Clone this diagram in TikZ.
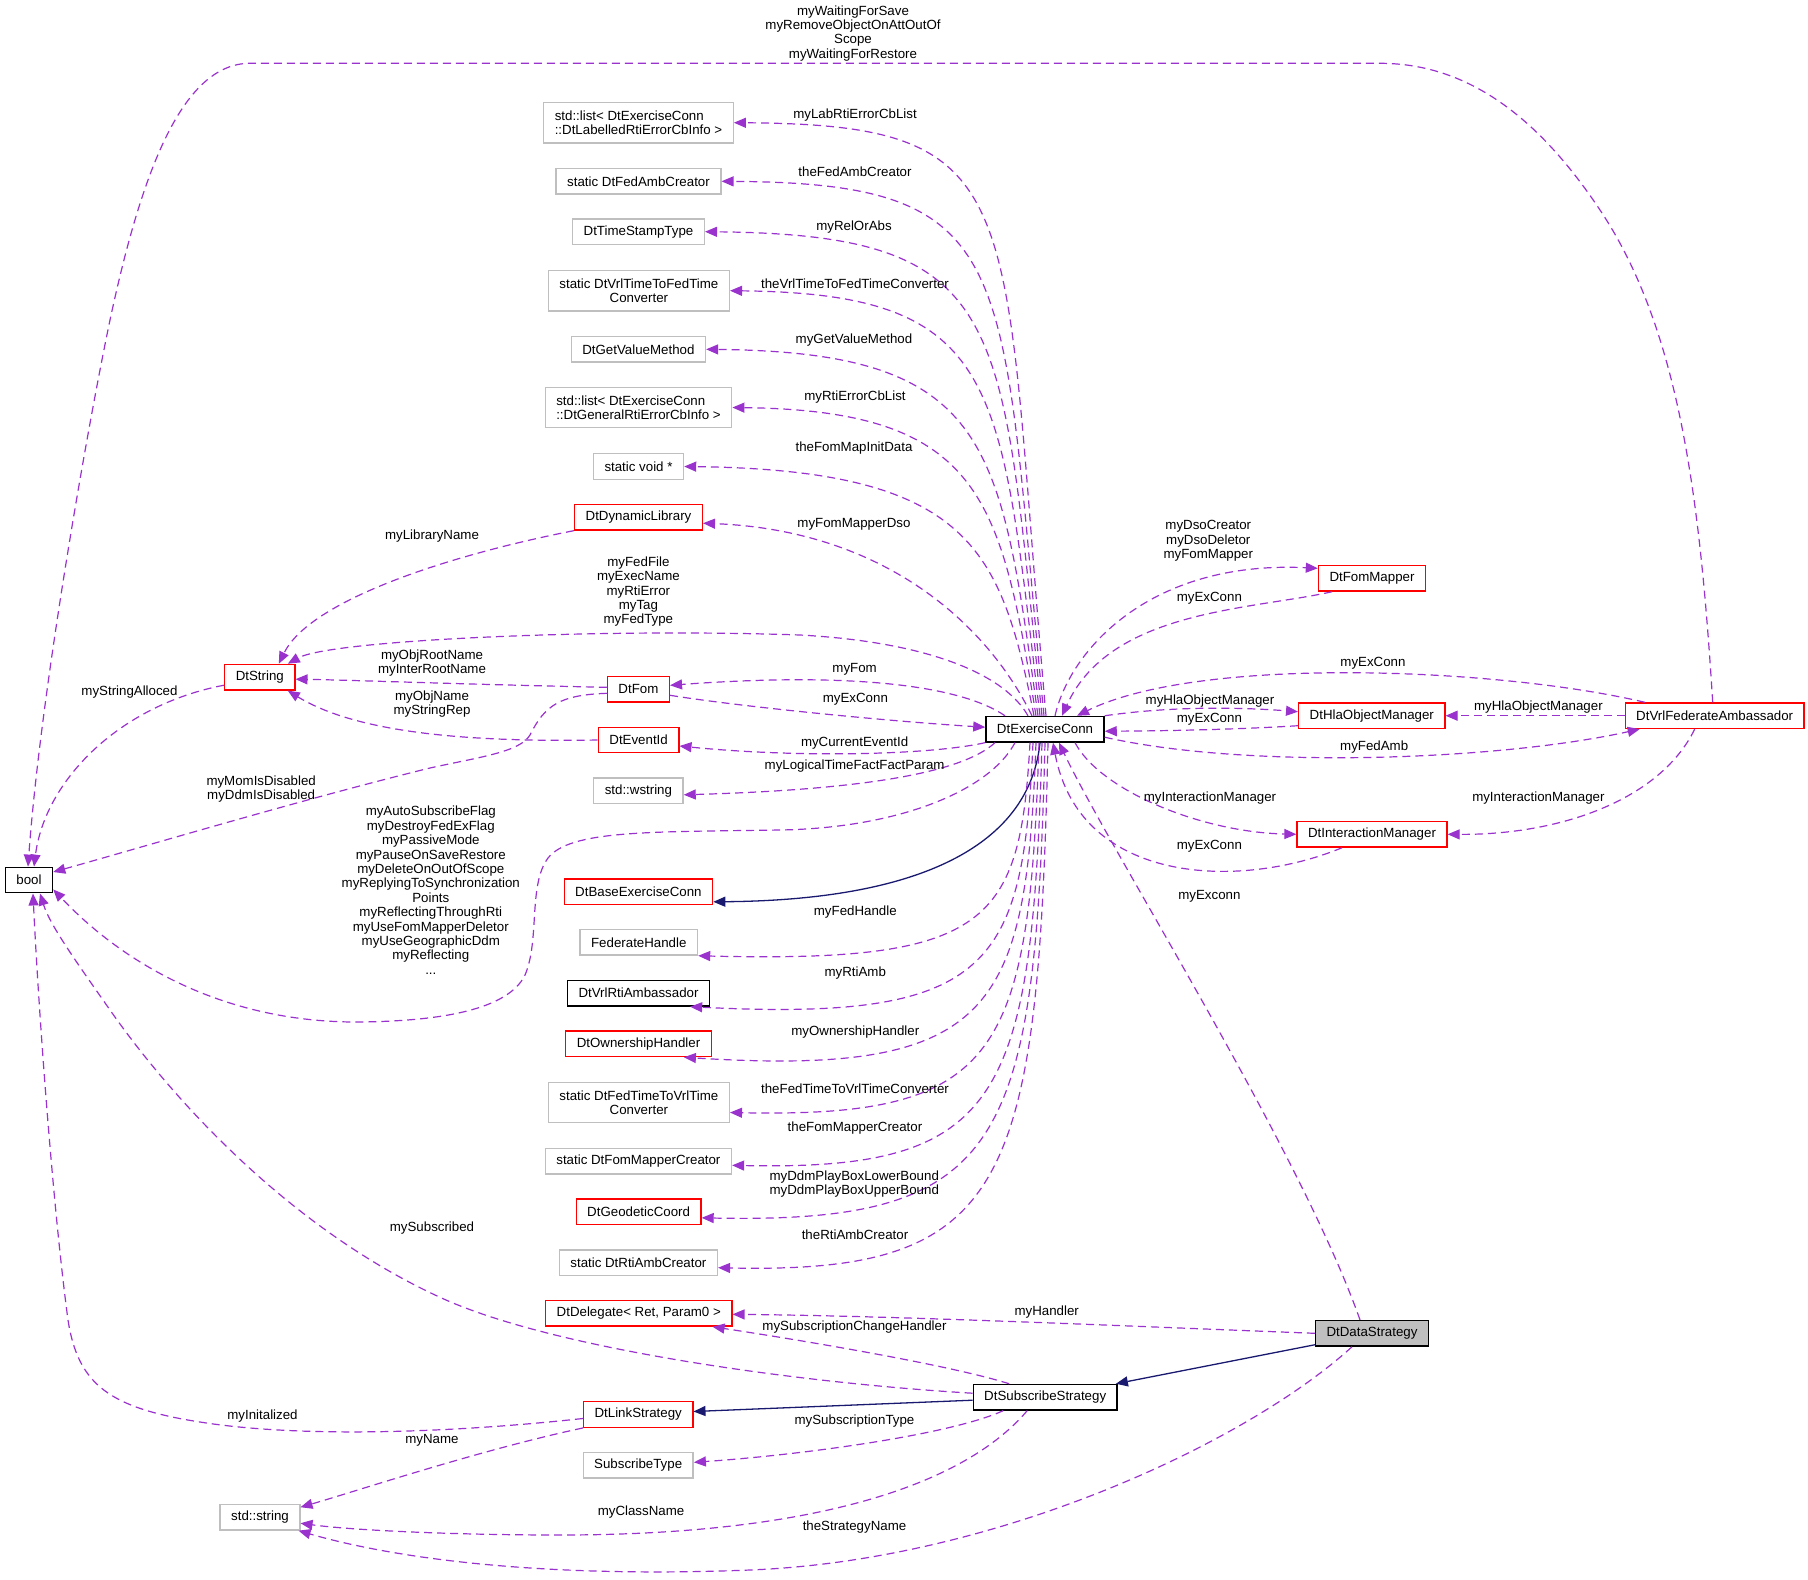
\documentclass[tikz,border=0pt]{standalone}
\usepackage{fontspec}
\setmainfont{Liberation Sans}
\usetikzlibrary{arrows.meta}
\definecolor{usecol}{HTML}{9A32CD}
\definecolor{inhcol}{HTML}{191970}
\definecolor{grayb}{HTML}{BFBFBF}
\begin{document}
\begin{tikzpicture}[x=1pt,y=-1pt,
  every node/.style={font=\fontsize{13.3}{14.4}\selectfont},
  nbox/.style={draw, line width=1.4pt, inner xsep=11pt, inner ysep=0pt, minimum height=25.5pt, align=center},
  tworow/.style={minimum height=40.3pt},
  rbox/.style={nbox, draw=red},
  gbox/.style={nbox, draw=grayb},
  kbox/.style={nbox, draw=black},
  usesty/.style={draw=usecol, line width=1.2pt, dash pattern=on 8pt off 5pt, -{Triangle[length=12pt,width=10pt]}},
  inhsty/.style={draw=inhcol, line width=1.3pt, -{Triangle[length=12pt,width=10pt]}},
  lbl/.style={inner sep=0pt, align=center},
]
\useasboundingbox (0,0) rectangle (1808,1580);

% ---------- nodes ----------
\node[kbox] (boolN) at (29,880) {bool};
\node[gbox, tworow, align=left] (listA) at (638.5,122.7) {std::list< DtExerciseConn\\::DtLabelledRtiErrorCbInfo >};
\node[gbox] (fedamb) at (638.5,181.3) {static DtFedAmbCreator};
\node[gbox] (tstamp) at (638.5,231.7) {DtTimeStampType};
\node[gbox, tworow] (vrltime) at (638.9,290.7) {static DtVrlTimeToFedTime\\Converter};
\node[gbox] (getval) at (638.4,349.3) {DtGetValueMethod};
\node[gbox, tworow, align=left] (listB) at (638.5,407.5) {std::list< DtExerciseConn\\::DtGeneralRtiErrorCbInfo >};
\node[gbox] (voidp) at (638.5,466.5) {static void *};
\node[rbox] (dynlib) at (638.5,517.2) {DtDynamicLibrary};
\node[rbox] (dtstring) at (259.8,677.2) {DtString};
\node[rbox] (dtfom) at (638.4,689.3) {DtFom};
\node[rbox] (eventid) at (638.6,740) {DtEventId};
\node[gbox] (wstring) at (638.4,790.8) {std::wstring};
\node[rbox] (baseexc) at (638.4,891.8) {DtBaseExerciseConn};
\node[gbox] (fedhandle) at (638.8,942.3) {FederateHandle};
\node[kbox] (vrlrti) at (638.5,993.2) {DtVrlRtiAmbassador};
\node[rbox] (ownership) at (638.5,1043.8) {DtOwnershipHandler};
\node[gbox, tworow] (fedtime) at (638.9,1102.5) {static DtFedTimeToVrlTime\\Converter};
\node[gbox] (fmcreator) at (638.4,1161.3) {static DtFomMapperCreator};
\node[rbox] (geodetic) at (638.6,1211.8) {DtGeodeticCoord};
\node[gbox] (rticreator) at (638.4,1262.7) {static DtRtiAmbCreator};
\node[rbox] (delegate) at (638.8,1313.3) {DtDelegate< Ret, Param0 >};
\node[rbox] (linkstrat) at (638.2,1414.5) {DtLinkStrategy};
\node[gbox] (subtype) at (638.2,1465.3) {SubscribeType};
\node[gbox] (stdstring) at (260,1517.2) {std::string};
\node[kbox] (exc) at (1045,729.2) {DtExerciseConn};
\node[rbox] (fommapper) at (1372,578.3) {DtFomMapper};
\node[rbox] (hla) at (1371.8,715.7) {DtHlaObjectManager};
\node[rbox] (im) at (1372,834.3) {DtInteractionManager};
\node[rbox] (vrlfed) at (1714.7,715.7) {DtVrlFederateAmbassador};
\node[kbox] (substrat) at (1045.2,1397.2) {DtSubscribeStrategy};
\node[kbox, fill=grayb] (datastrat) at (1372,1333.3) {DtDataStrategy};

% ---------- edges to bool ----------
\draw[usesty] ([xshift=-2pt]vrlfed.north) .. controls (1700,500) and (1680,330) .. (1600,210) .. controls (1540,120) and (1470,63.3) .. (1380,63.3) -- (250,63.3) .. controls (180,63.3) and (140,180) .. (110,320) .. controls (85,440) and (40,700) .. ([xshift=-1pt]boolN.north);
\draw[usesty] ([yshift=-8pt]dtstring.west) .. controls (120,705) and (45,780) .. ([xshift=5pt]boolN.north);
\draw[usesty] ([yshift=-4pt]dtfom.west) .. controls (560,695) and (545,705) .. (530,735) .. controls (520,752) and (480,757) .. (430,768) .. controls (300,800) and (150,845) .. ([yshift=8pt]boolN.east);
\draw[usesty] ([xshift=-30pt]exc.south) .. controls (990,790) and (900,828) .. (780,830) .. controls (650,832) and (570,830) .. (548,858) .. controls (528,885) and (540,940) .. (525,975) .. controls (508,1010) and (440,1021) .. (360,1022) .. controls (220,1023) and (120,960) .. ([yshift=4pt]boolN.south east);
\draw[usesty] ([yshift=4pt]substrat.west) .. controls (800,1383) and (560,1350) .. (446,1300) .. controls (300,1235) and (180,1110) .. (110,1010) .. controls (75,960) and (50,925) .. ([xshift=11pt]boolN.south);
\draw[usesty] ([yshift=-4pt]linkstrat.west) .. controls (450,1433) and (300,1438) .. (200,1422) .. controls (110,1408) and (78,1385) .. (68,1320) .. controls (52,1200) and (38,1000) .. ([xshift=4pt]boolN.south);

% ---------- top fan ----------
\draw[usesty] ([xshift=1pt]exc.north) .. controls (1000,194) and (1034,124.7) .. (listA.east);
\draw[usesty] ([xshift=-1pt]exc.north) .. controls (999,261.7) and (1024,183.3) .. (fedamb.east);
\draw[usesty] ([xshift=-3pt]exc.north) .. controls (1000,320) and (1014.4,234.7) .. (tstamp.east);
\draw[usesty] ([xshift=-5pt]exc.north) .. controls (1000,384) and (1003.5,293.7) .. (vrltime.east);
\draw[usesty] ([xshift=-7pt]exc.north) .. controls (1000,443.4) and (992.7,352.3) .. (getval.east);
\draw[usesty] ([xshift=-9pt]exc.north) .. controls (1001,498.2) and (982,410.5) .. (listB.east);
\draw[usesty] ([xshift=-11pt]exc.north) .. controls (1001,550) and (971,470) .. (voidp.east);
\draw[usesty] ([xshift=-13pt]exc.north) .. controls (985,620) and (880,530) .. ([yshift=-6pt]dynlib.east);
\draw[usesty] ([xshift=-17pt]exc.north) .. controls (1005,675) and (930,642) .. (800,635) .. controls (600,628) and (330,640) .. ([xshift=28pt]dtstring.north);
\draw[usesty] (dynlib.south west) .. controls (450,555) and (310,600) .. ([xshift=19pt]dtstring.north);
\draw[usesty] ([yshift=2pt]dtfom.west) .. controls (450,684) and (350,680) .. ([yshift=-2pt]dtstring.east);
\draw[usesty] (eventid.west) .. controls (480,742) and (360,735) .. ([xshift=28pt]dtstring.south);
\draw[usesty] ([xshift=-40pt]exc.north) .. controls (960,685) and (850,672) .. ([yshift=4pt]dtfom.east);
\draw[usesty] ([yshift=-6pt]dtfom.east) .. controls (750,708) and (900,722) .. ([yshift=2pt]exc.west);
\draw[usesty] (exc.south west) .. controls (930,755) and (800,758) .. ([yshift=-6pt]eventid.east);
\draw[usesty] ([xshift=-50pt]exc.south) .. controls (960,775) and (850,790) .. ([yshift=-4pt]wstring.east);

% ---------- bottom fan ----------
\draw[inhsty] ([xshift=-5pt]exc.south) .. controls (1030,840) and (930,900) .. ([yshift=-10pt]baseexc.east);
\draw[usesty] ([xshift=-15pt]exc.south) .. controls (1020,923) and (990,963) .. (fedhandle.south east);
\draw[usesty] ([xshift=-12pt]exc.south) .. controls (1023,966) and (993,1022) .. ([xshift=-20pt]vrlrti.south east);
\draw[usesty] ([xshift=-9pt]exc.south) .. controls (1026,1009.5) and (996,1077) .. ([xshift=-28pt]ownership.south east);
\draw[usesty] ([xshift=-6pt]exc.south) .. controls (1029,1057) and (999,1118) .. ([yshift=-10pt]fedtime.east);
\draw[usesty] ([xshift=-3pt]exc.south) .. controls (1032,1101.5) and (1002,1171) .. ([yshift=-4pt]fmcreator.east);
\draw[usesty] (exc.south) .. controls (1035,1146.6) and (1005,1224) .. ([yshift=-6pt]geodetic.east);
\draw[usesty] ([xshift=3pt]exc.south) .. controls (1038,1189) and (1008,1274) .. ([yshift=-5pt]rticreator.east);

% ---------- right side ----------
\draw[usesty] ([xshift=10pt]exc.north) .. controls (1070,650) and (1150,560) .. ([yshift=10pt]fommapper.west);
\draw[usesty] ([xshift=-40pt]fommapper.south) .. controls (1250,610) and (1110,610) .. ([xshift=17pt]exc.north);
\draw[usesty] ([xshift=-70pt]vrlfed.north) .. controls (1500,668) and (1200,655) .. ([xshift=32pt]exc.north);
\draw[usesty] (exc.north east) .. controls (1180,705) and (1250,708) .. ([yshift=4pt]hla.west);
\draw[usesty] ([yshift=-10pt]hla.west) .. controls (1230,730) and (1150,731) .. ([yshift=-2pt]exc.east);
\draw[usesty] ([yshift=-8pt]exc.east) .. controls (1250,770) and (1500,760) .. ([xshift=-75pt]vrlfed.south);
\draw[usesty] (vrlfed.west) -- (hla.east);
\draw[usesty] ([xshift=30pt]exc.south) .. controls (1100,790) and (1200,832) .. (im.west);
\draw[usesty] ([xshift=-30pt]im.south) .. controls (1240,890) and (1080,885) .. ([xshift=8pt]exc.south);
\draw[usesty] ([xshift=-20pt]vrlfed.south) .. controls (1660,800) and (1560,835) .. (im.east);
\draw[usesty] ([xshift=-12pt]datastrat.north) .. controls (1300,1150) and (1110,850) .. ([xshift=14pt]exc.south);

% ---------- bottom ----------
\draw[usesty] (datastrat.west) .. controls (1100,1325) and (900,1316) .. ([yshift=-1pt]delegate.east);
\draw[usesty] ([xshift=-36pt]substrat.north) .. controls (950,1365) and (800,1340) .. ([xshift=-20pt]delegate.south east);
\draw[inhsty] ([yshift=2pt]datastrat.south west) -- ([xshift=-2pt]substrat.north east);
\draw[inhsty] ([yshift=-3pt]substrat.west) -- ([yshift=3pt]linkstrat.east);
\draw[usesty] ([xshift=-42pt]substrat.south) .. controls (950,1435) and (800,1455) .. ([yshift=3pt]subtype.east);
\draw[usesty] ([xshift=-18pt]substrat.south) .. controls (960,1490) and (800,1535) .. (560,1535) .. controls (450,1535) and (350,1530) .. ([yshift=-6pt]stdstring.east);
\draw[usesty] (linkstrat.south west) .. controls (480,1450) and (360,1490) .. ([yshift=10pt]stdstring.east);
\draw[usesty] ([xshift=-20pt]datastrat.south) .. controls (1250,1440) and (1000,1560) .. (750,1570) .. controls (550,1578) and (400,1560) .. ([xshift=-2pt]stdstring.south east);

% ---------- labels ----------
\node[lbl] (l1) at (853,33.3) {myWaitingForSave\\myRemoveObjectOnAttOutOf\\Scope\\myWaitingForRestore};
\node[lbl] (l2) at (855,115.3) {myLabRtiErrorCbList};
\node[lbl] (l3) at (855,171.3) {theFedAmbCreator};
\node[lbl] (l4) at (854,226.7) {myRelOrAbs};
\node[lbl] (l5) at (855,283.3) {theVrlTimeToFedTimeConverter};
\node[lbl] (l6) at (854,340) {myGetValueMethod};
\node[lbl] (l7) at (855,396.7) {myRtiErrorCbList};
\node[lbl] (l8) at (854,448.3) {theFomMapInitData};
\node[lbl] (l9) at (854,524.3) {myFomMapperDso};
\node[lbl] (l10) at (432,535.7) {myLibraryName};
\node[lbl] (l11) at (638.4,591.7) {myFedFile\\myExecName\\myRtiError\\myTag\\myFedType};
\node[lbl] (l12) at (432,663.2) {myObjRootName\\myInterRootName};
\node[lbl] (l13) at (129.5,691.7) {myStringAlloced};
\node[lbl] (l14) at (432,704.2) {myObjName\\myStringRep};
\node[lbl] (l15) at (854.6,669) {myFom};
\node[lbl] (l16) at (855.4,699.3) {myExConn};
\node[lbl] (l17) at (854.6,742.7) {myCurrentEventId};
\node[lbl] (l18) at (854.6,766) {myLogicalTimeFactFactParam};
\node[lbl] (l19) at (261.2,789.3) {myMomIsDisabled\\myDdmIsDisabled};
\node[lbl] (l20) at (430.8,890.3) {myAutoSubscribeFlag\\myDestroyFedExFlag\\myPassiveMode\\myPauseOnSaveRestore\\myDeleteOnOutOfScope\\myReplyingToSynchronization\\Points\\myReflectingThroughRti\\myUseFomMapperDeletor\\myUseGeographicDdm\\myReflecting\\...};
\node[lbl] (l21) at (855.3,912.3) {myFedHandle};
\node[lbl] (l22) at (855.3,972.7) {myRtiAmb};
\node[lbl] (l23) at (855.3,1031.7) {myOwnershipHandler};
\node[lbl] (l24) at (855,1088.3) {theFedTimeToVrlTimeConverter};
\node[lbl] (l25) at (855,1128.3) {theFomMapperCreator};
\node[lbl] (l26) at (854.3,1184.2) {myDdmPlayBoxLowerBound\\myDdmPlayBoxUpperBound};
\node[lbl] (l27) at (855,1234.3) {theRtiAmbCreator};
\node[lbl] (l28) at (432,1228.3) {mySubscribed};
\node[lbl] (l29) at (1046.7,1311.7) {myHandler};
\node[lbl] (l30) at (854.5,1326.7) {mySubscriptionChangeHandler};
\node[lbl] (l31) at (262.5,1416) {myInitalized};
\node[lbl] (l32) at (854.5,1420.7) {mySubscriptionType};
\node[lbl] (l33) at (432,1440.7) {myName};
\node[lbl] (l34) at (641,1511.7) {myClassName};
\node[lbl] (l35) at (854.5,1526.7) {theStrategyName};
\node[lbl] (l36) at (1208.3,541) {myDsoCreator\\myDsoDeletor\\myFomMapper};
\node[lbl] (l37) at (1209.4,598.7) {myExConn};
\node[lbl] (l38) at (1373,663.7) {myExConn};
\node[lbl] (l39) at (1210,700.7) {myHlaObjectManager};
\node[lbl] (l40) at (1538.4,707.3) {myHlaObjectManager};
\node[lbl] (l41) at (1209.4,719.3) {myExConn};
\node[lbl] (l42) at (1374.2,747.3) {myFedAmb};
\node[lbl] (l43) at (1210,798.3) {myInteractionManager};
\node[lbl] (l44) at (1538.4,798.3) {myInteractionManager};
\node[lbl] (l45) at (1209.4,846.7) {myExConn};
\node[lbl] (l46) at (1209.4,896.7) {myExconn};
\end{tikzpicture}
\end{document}
